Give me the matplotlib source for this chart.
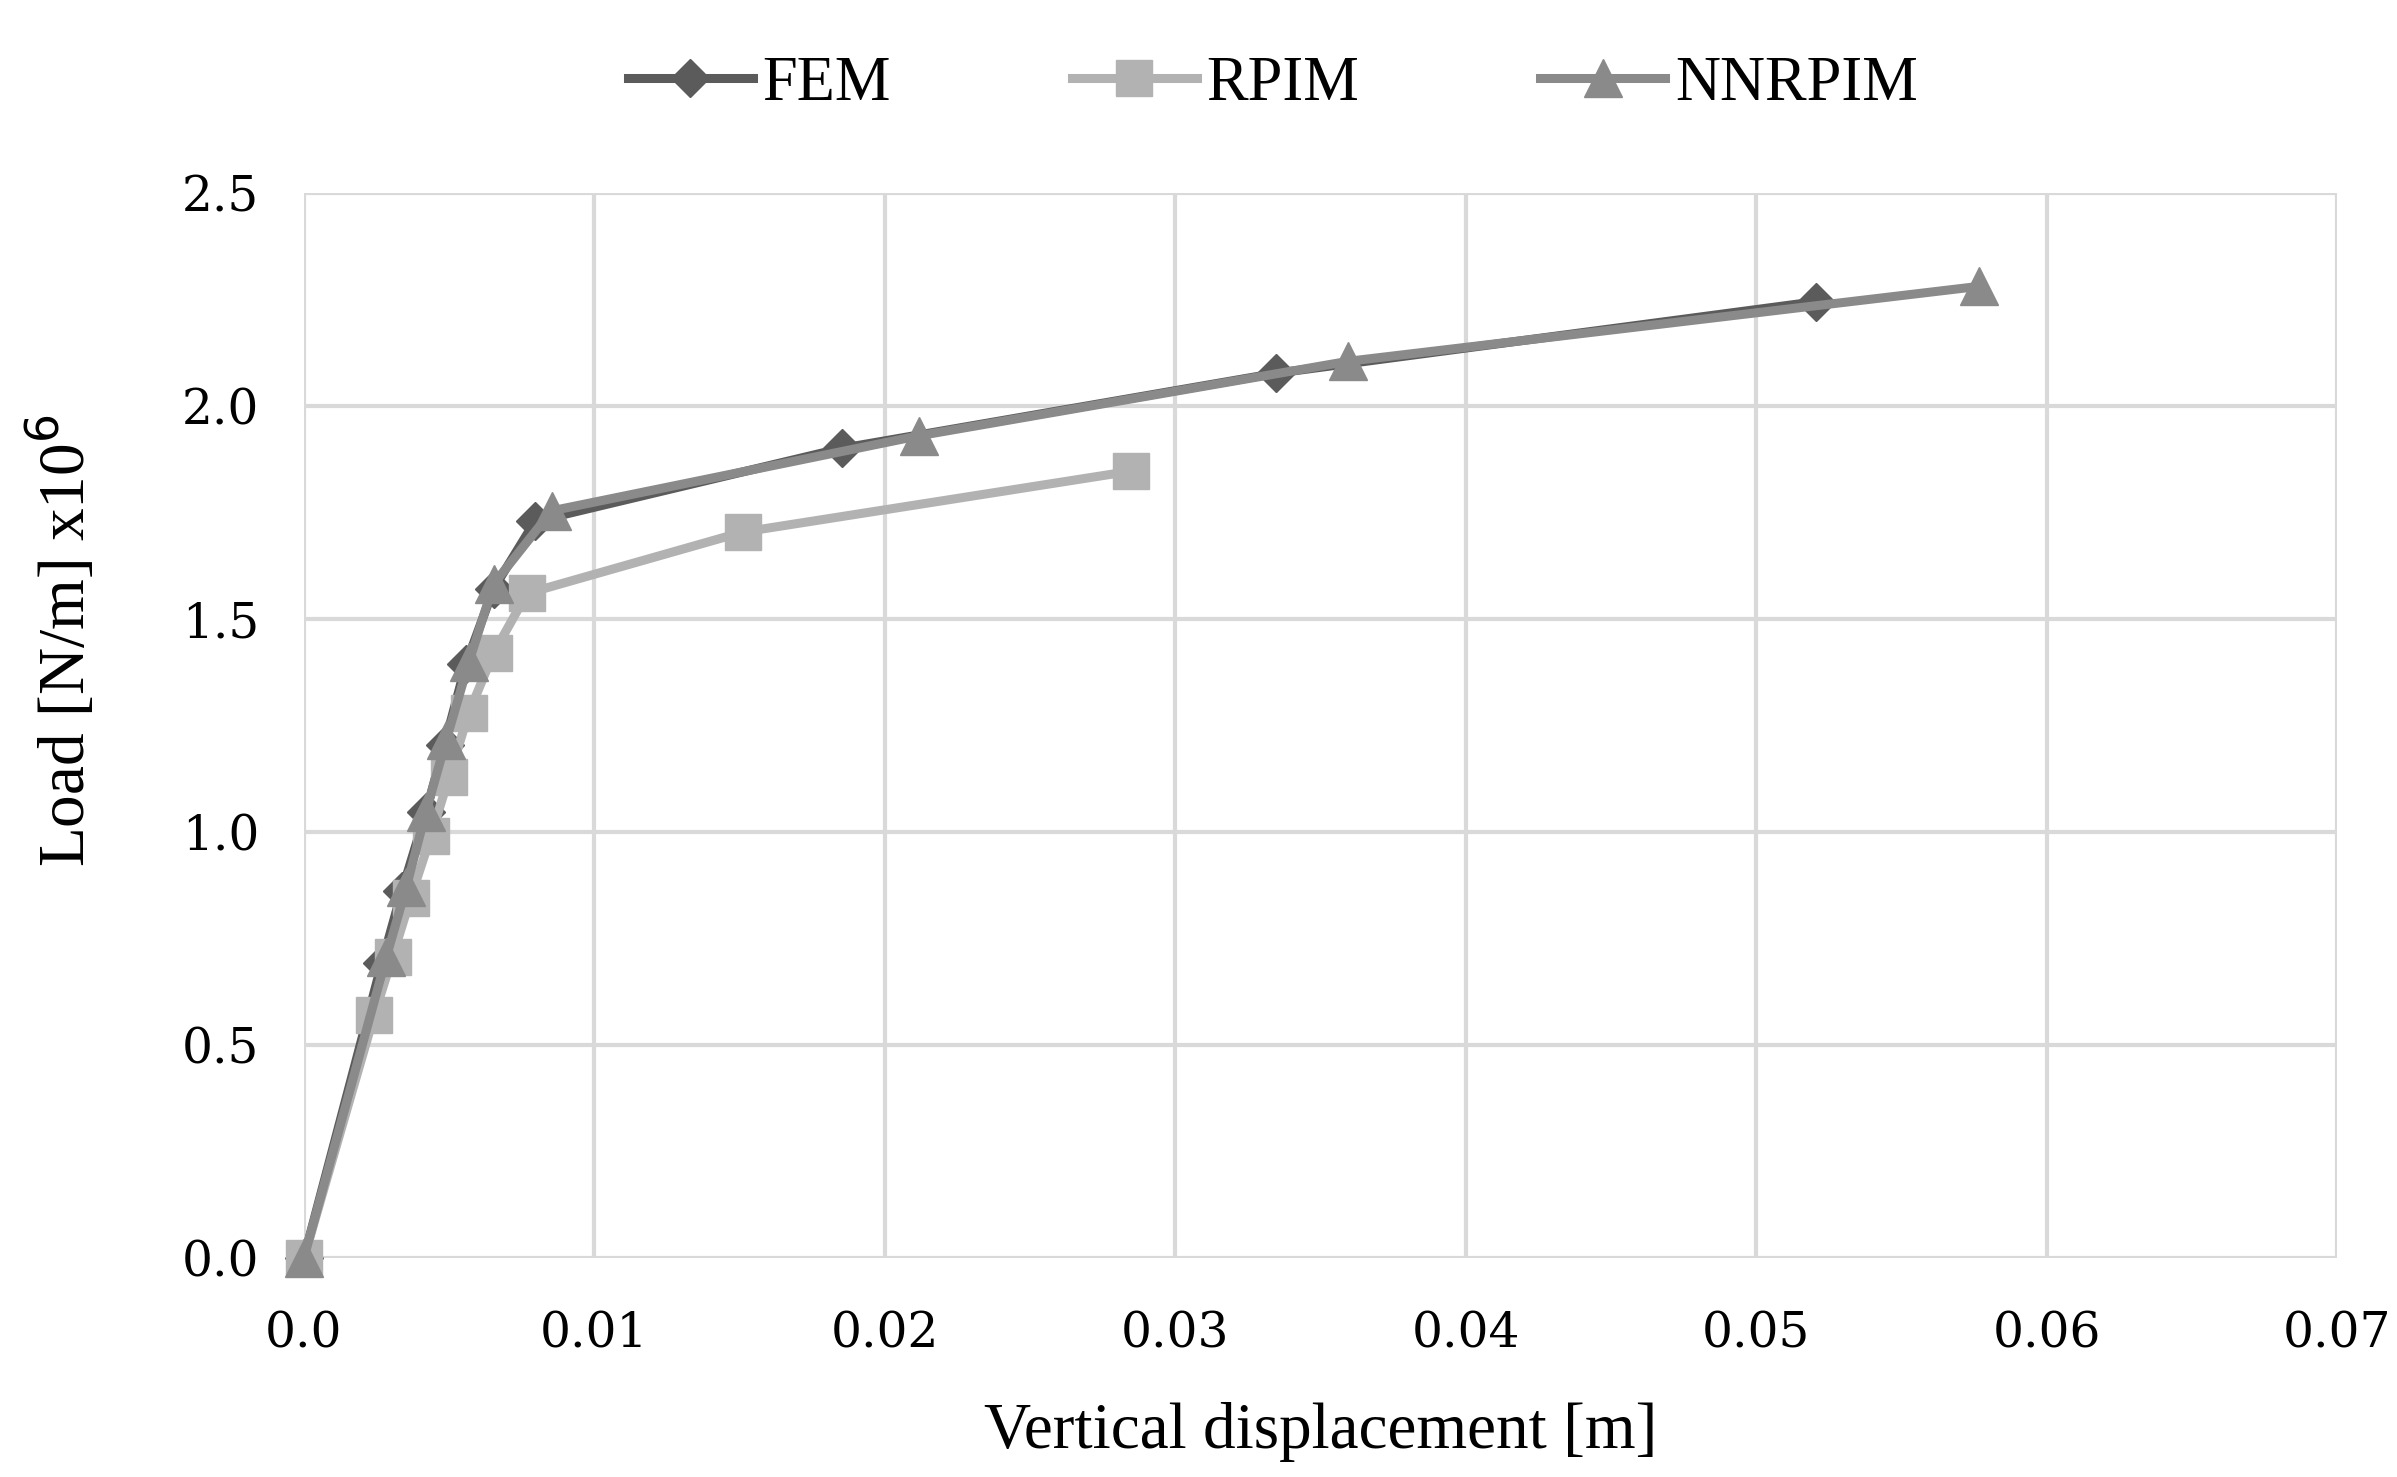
import matplotlib
matplotlib.use("Agg")
import matplotlib.pyplot as plt

# displacement [m] and load [N/m x1e6] for each method
fem_x = [0.0, 0.00268, 0.00337, 0.0042, 0.00484, 0.00558, 0.00653, 0.00795, 0.01853, 0.03347, 0.05205]
fem_y = [0.0, 0.692, 0.861, 1.047, 1.205, 1.395, 1.571, 1.729, 1.901, 2.077, 2.245]

rpim_x = [0.0, 0.00242, 0.00305, 0.00368, 0.00437, 0.0050, 0.00568, 0.00653, 0.00768, 0.0151, 0.02847]
rpim_y = [0.0, 0.570, 0.707, 0.846, 0.990, 1.130, 1.280, 1.420, 1.560, 1.704, 1.847]

nnrpim_x = [0.0, 0.00284, 0.00353, 0.0042, 0.0049, 0.00568, 0.00653, 0.00853, 0.02116, 0.03595, 0.05768]
nnrpim_y = [0.0, 0.707, 0.872, 1.047, 1.216, 1.399, 1.582, 1.754, 1.930, 2.105, 2.281]

x_ticks = [0.0, 0.01, 0.02, 0.03, 0.04, 0.05, 0.06, 0.07]
x_labels = ["0.0", "0.01", "0.02", "0.03", "0.04", "0.05", "0.06", "0.07"]
y_ticks = [0.0, 0.5, 1.0, 1.5, 2.0, 2.5]
y_labels = ["0.0", "0.5", "1.0", "1.5", "2.0", "2.5"]

fig = plt.figure(figsize=(23.97, 14.77), dpi=100)
ax = fig.add_axes([0.1268, 0.1483, 0.8482, 0.721])

ax.plot(fem_x, fem_y, color="#5b5b5b", lw=6.5, marker="D", markersize=19,
        label="FEM", clip_on=False, zorder=3)
ax.plot(rpim_x, rpim_y, color="#b2b2b2", lw=6.5, marker="s", markersize=26,
        label="RPIM", clip_on=False, zorder=4)
ax.plot(nnrpim_x, nnrpim_y, color="#8a8a8a", lw=6.5, marker="^", markersize=28,
        label="NNRPIM", clip_on=False, zorder=5)

ax.set_xlim(0, 0.07)
ax.set_ylim(0, 2.5)
ax.set_xticks(x_ticks)
ax.set_xticklabels(x_labels, family="DejaVu Serif", fontsize=35)
ax.set_yticks(y_ticks)
ax.set_yticklabels(y_labels, family="DejaVu Serif", fontsize=35)
ax.tick_params(axis="x", length=0, pad=38)
ax.tick_params(axis="y", length=0, pad=32)

ax.grid(True, color="#d9d9d9", lw=3)
ax.set_axisbelow(True)
for s in ax.spines.values():
    s.set_visible(False)

ax.set_xlabel("Vertical displacement [m]", family="Liberation Serif", fontsize=47, labelpad=32)
ax.set_ylabel("Load [N/m] x10$^6$", family="Liberation Serif", fontsize=47, labelpad=60, y=0.58)

fig.legend(loc="upper center", bbox_to_anchor=(0.531, 1.0), ncol=3, frameon=False,
           prop={"family": "Liberation Serif", "size": 45}, handlelength=2.0,
           handletextpad=0.15, columnspacing=2.9)

fig.savefig("out.png", dpi=100)
